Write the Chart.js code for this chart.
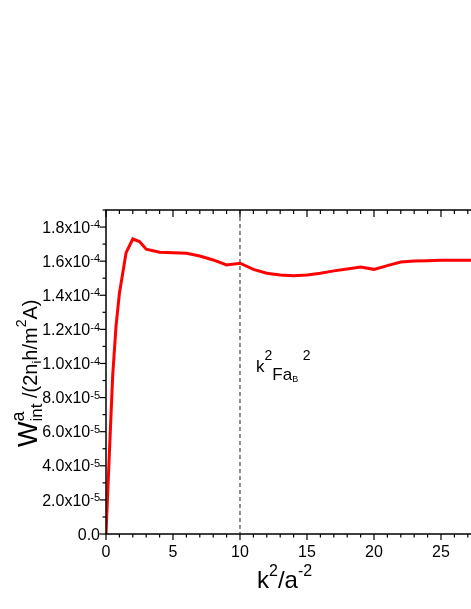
<!DOCTYPE html>
<html>
<head>
<meta charset="utf-8">
<script src="https://cdn.jsdelivr.net/npm/chart.js@4.4.0/dist/chart.umd.min.js"></script>
<style>
    html, body { margin: 0; padding: 0; background: #fff; overflow: hidden; }
    #wrap { width: 471px; height: 609px; position: relative; }
</style>
</head>
<body>
<div id="wrap"><canvas id="wChart"></canvas></div>
<script>
// data
const kValues = [0, 0.25, 0.5, 0.75, 1, 1.5, 2, 2.5, 3, 4, 5, 6, 7, 8, 9, 10, 11, 12, 13, 14,
    15, 16, 17, 18, 19, 20, 21, 22, 23, 24, 25, 26, 27, 28];
const wValues = [0, 0.47e-4, 0.93e-4, 1.22e-4, 1.41e-4, 1.65e-4, 1.73e-4, 1.715e-4, 1.67e-4, 1.652e-4,
    1.649e-4, 1.646e-4, 1.63e-4, 1.607e-4, 1.578e-4, 1.588e-4, 1.552e-4, 1.529e-4, 1.519e-4, 1.515e-4,
    1.519e-4, 1.529e-4, 1.543e-4, 1.554e-4, 1.566e-4, 1.552e-4, 1.574e-4, 1.595e-4, 1.601e-4, 1.603e-4,
    1.605e-4, 1.605e-4, 1.606e-4, 1.606e-4];

const xTickValues = [0, 5, 10, 15, 20, 25];
const xTickLabels = ['0', '5', '10', '15', '20', '25'];
const yTickValues = [0, 2e-5, 4e-5, 6e-5, 8e-5, 1e-4, 1.2e-4, 1.4e-4, 1.6e-4, 1.8e-4];
const yTickMantissa = ['0.0', '2.0x10', '4.0x10', '6.0x10', '8.0x10', '1.0x10', '1.2x10', '1.4x10', '1.6x10', '1.8x10'];
const yTickExponent = ['', '-5', '-5', '-5', '-5', '-4', '-4', '-4', '-4', '-4'];
const fermiLine = 10;

const FONT = '"Liberation Sans", Arial, sans-serif';

// draws text pieces one after another: [text, size, dy, stackOnPrevious]
function drawRich(ctx, x, y, parts) {
    let cx = x, prevStart = x, prevEnd = x;
    parts.forEach(([t, size, dy, stack]) => {
        ctx.font = size + 'px ' + FONT;
        const start = stack ? prevStart : cx;
        const w = ctx.measureText(t).width;
        ctx.fillText(t, start, y + dy);
        if (stack) {
            cx = Math.max(prevEnd, start + w);
        } else {
            prevStart = start;
            cx = start + w;
        }
        prevEnd = cx;
    });
    return cx - x;
}

function richWidth(ctx, parts) {
    let w = 0;
    parts.forEach(([t, size]) => {
        ctx.font = size + 'px ' + FONT;
        w += ctx.measureText(t).width;
    });
    return w;
}

const framePlugin = {
    id: 'originFrame',
    beforeDatasetsDraw(chart) {
        const { ctx, chartArea: a, scales: { x } } = chart;
        ctx.save();
        // dashed marker at k_F^2 a_B^2
        const fx = x.getPixelForValue(fermiLine);
        ctx.strokeStyle = '#222';
        ctx.lineWidth = 1;
        ctx.setLineDash([4, 3]);
        ctx.beginPath();
        ctx.moveTo(fx, a.top);
        ctx.lineTo(fx, a.bottom);
        ctx.stroke();
        ctx.restore();
    },
    afterDraw(chart) {
        const { ctx, chartArea: a, scales: { x, y } } = chart;
        ctx.save();
        ctx.strokeStyle = '#000';
        ctx.lineWidth = 1.5;
        ctx.setLineDash([]);
        ctx.beginPath();
        ctx.moveTo(a.right + 2, a.top);
        ctx.lineTo(a.left, a.top);
        ctx.lineTo(a.left, a.bottom);
        ctx.lineTo(a.right + 2, a.bottom);
        ctx.stroke();

        // x ticks: bottom outward, top inward
        ctx.lineWidth = 1.2;
        for (let v = 0; v <= x.max; v += 1) {
            const px = x.getPixelForValue(v);
            const major = v % 5 === 0;
            ctx.beginPath();
            ctx.moveTo(px, a.bottom);
            ctx.lineTo(px, a.bottom + (major ? 6 : 3.5));
            ctx.moveTo(px, a.top);
            ctx.lineTo(px, a.top + (major ? 7 : 4));
            ctx.stroke();
        }
        // y ticks: left outward
        for (let i = 0; i <= 19; i++) {
            const py = y.getPixelForValue(i * 1e-5);
            const major = i % 2 === 0;
            ctx.beginPath();
            ctx.moveTo(a.left, py);
            ctx.lineTo(a.left - (major ? 6.5 : 3.5), py);
            ctx.stroke();
        }

        ctx.fillStyle = '#000';
        ctx.textBaseline = 'alphabetic';
        // x tick labels
        ctx.font = '16px ' + FONT;
        ctx.textAlign = 'center';
        xTickValues.forEach((v, i) => {
            ctx.fillText(xTickLabels[i], x.getPixelForValue(v), a.bottom + 23);
        });
        // y tick labels
        ctx.textAlign = 'left';
        yTickValues.forEach((v, i) => {
            const parts = [[yTickMantissa[i], 16, 0]];
            if (yTickExponent[i]) parts.push([yTickExponent[i], 11, -4.5]);
            const w = richWidth(ctx, parts);
            drawRich(ctx, 100 - w, y.getPixelForValue(v) + 5.7, parts);
        });

        // x axis title
        const xTitle = [['k', 24, 0], ['2', 16, -12], ['/a', 24, 0], ['-2', 16, -12]];
        drawRich(ctx, 257, 588, xTitle);

        // annotation
        const note = [['k', 17, 0], ['2', 14, -12], ['F', 17, 8], ['a', 17, 8], ['B', 9, 10], [' ', 17, 0], ['2', 14, -12]];
        drawRich(ctx, 256, 372, note);

        // y axis title, rotated
        ctx.translate(37, 447);
        ctx.rotate(-Math.PI / 2);
        const yTitle = [['W', 27, 0], ['a', 18, -13], ['int', 17, 5, true], [' /(2n', 20, 0], ['i', 13, 4],
            ['h/m', 20, 0], ['2', 14, -11], ['A)', 20, 0]];
        drawRich(ctx, 0, 0, yTitle);
        ctx.restore();
    }
};

const points = kValues.map((k, i) => ({ x: k, y: wValues[i] }));

new Chart(document.getElementById('wChart'), {
    type: 'line',
    data: {
        datasets: [{
            data: points,
            borderColor: '#ff0000',
            borderWidth: 3,
            pointRadius: 0,
            tension: 0,
            fill: false
        }]
    },
    options: {
        responsive: true,
        maintainAspectRatio: false,
        animation: false,
        layout: { padding: { top: 210, right: 0, left: 0, bottom: 0 } },
        plugins: { legend: { display: false }, tooltip: { enabled: false } },
        scales: {
            x: {
                type: 'linear',
                min: 0,
                max: 27.24,
                ticks: { display: false },
                grid: { display: false, drawTicks: false },
                border: { display: false },
                afterFit: s => { s.height = 75; }
            },
            y: {
                min: 0,
                max: 1.9e-4,
                ticks: { display: false },
                grid: { display: false, drawTicks: false },
                border: { display: false },
                afterFit: s => { s.width = 106; }
            }
        }
    },
    plugins: [framePlugin]
});
</script>
</body>
</html>
